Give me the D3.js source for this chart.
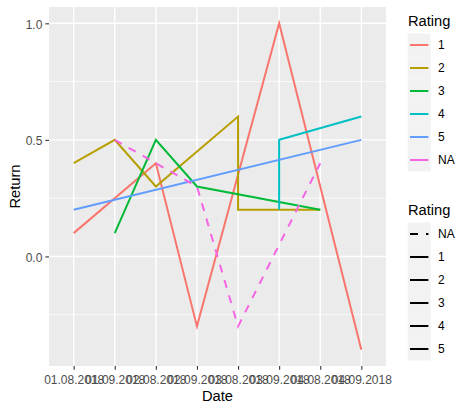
<!DOCTYPE html>
<html><head><meta charset="utf-8">
<script src="https://cdn.jsdelivr.net/npm/d3@7"></script>
<style>
body{margin:0;background:#fff;}
svg{display:block;font-family:"Liberation Sans",Arial,sans-serif;}
</style></head><body>
<svg id="c" width="469" height="411"></svg>
<script>
const dates = ["01.08.2018","01.09.2018","02.08.2018","02.09.2018","03.08.2018","03.09.2018","04.08.2018","04.09.2018"];
const ratingLevels = ["1","2","3","4","5","NA"];
const ratingColors = ["#F8766D","#B79F00","#00BA38","#00BFC4","#619CFF","#F564E3"];
const linetypeLevels = ["NA","1","2","3","4","5"];

const rating1Dates = ["01.08.2018","02.08.2018","02.09.2018","03.09.2018","04.09.2018"];
const rating1Return = [0.1, 0.4, -0.3, 1.0, -0.4];
const rating2Dates = ["01.08.2018","01.09.2018","02.08.2018","03.08.2018","03.08.2018","04.08.2018"];
const rating2Return = [0.4, 0.5, 0.3, 0.6, 0.2, 0.2];
const rating3Dates = ["01.09.2018","02.08.2018","02.09.2018","04.08.2018"];
const rating3Return = [0.1, 0.5, 0.3, 0.2];
const rating4Dates = ["03.09.2018","03.09.2018","04.09.2018"];
const rating4Return = [0.2, 0.5, 0.6];
const rating5Dates = ["01.08.2018","04.09.2018"];
const rating5Return = [0.2, 0.5];
const ratingNADates = ["01.09.2018","02.08.2018","02.09.2018","03.08.2018","04.08.2018"];
const ratingNAReturn = [0.5, 0.4, 0.3, -0.3, 0.4];

const yTicks = [0.0, 0.5, 1.0];
const yMinor = [-0.25, 0.25, 0.75];

const seriesDates = [rating1Dates, rating2Dates, rating3Dates, rating4Dates, rating5Dates, ratingNADates];
const seriesReturn = [rating1Return, rating2Return, rating3Return, rating4Return, rating5Return, ratingNAReturn];

const svg = d3.select("#c");
const P = {l:49, r:386, t:7, b:366};
const x = d3.scalePoint().domain(dates).range([P.l, P.r]).padding(0.6);
const y = d3.scaleLinear().domain([-0.47, 1.07]).range([P.b, P.t]);

svg.append("rect").attr("x",P.l).attr("y",P.t).attr("width",P.r-P.l).attr("height",P.b-P.t).attr("fill","#EBEBEB");
const g = svg.append("g");
yMinor.forEach(v=>g.append("line").attr("x1",P.l).attr("x2",P.r).attr("y1",y(v)).attr("y2",y(v)).attr("stroke","#fff").attr("stroke-width",0.7));
yTicks.forEach(v=>g.append("line").attr("x1",P.l).attr("x2",P.r).attr("y1",y(v)).attr("y2",y(v)).attr("stroke","#fff").attr("stroke-width",1.4));
dates.forEach(d=>g.append("line").attr("y1",P.t).attr("y2",P.b).attr("x1",x(d)).attr("x2",x(d)).attr("stroke","#fff").attr("stroke-width",1.4));

const line = d3.line().x(d=>x(d[0])).y(d=>y(d[1]));
ratingLevels.forEach((lv,i)=>{
  const pts = seriesDates[i].map((d,j)=>[d, seriesReturn[i][j]]);
  pts.sort((a,b)=>dates.indexOf(a[0])-dates.indexOf(b[0]));
  svg.append("path").attr("d",line(pts)).attr("fill","none")
    .attr("stroke",ratingColors[i]).attr("stroke-width",2)
    .attr("stroke-dasharray", lv==="NA" ? "8,8" : null);
});

// axes
const ya = svg.append("g").attr("transform",`translate(${P.l},0)`)
  .call(d3.axisLeft(y).tickValues(yTicks).tickFormat(d3.format(".1f")).tickSize(3.7).tickPadding(3));
const xa = svg.append("g").attr("transform",`translate(0,${P.b})`)
  .call(d3.axisBottom(x).tickSize(3.7).tickPadding(5.5));
[ya,xa].forEach(a=>{
  a.select(".domain").remove();
  a.selectAll(".tick line").attr("stroke","#333333").attr("stroke-width",1.1);
  a.selectAll(".tick text").attr("fill","#4D4D4D").style("font-size","12px").style("font-family","Liberation Sans, Arial, sans-serif");
});
ya.selectAll(".tick text").attr("dy","0.42em");

svg.append("text").attr("x",(P.l+P.r)/2).attr("y",401).attr("text-anchor","middle")
  .style("font-size","14.7px").attr("fill","#000").text("Date");
svg.append("text").attr("transform",`translate(20,${(P.t+P.b)/2}) rotate(-90)`).attr("text-anchor","middle")
  .style("font-size","14.7px").attr("fill","#000").text("Return");

// legends
function legend(top, labels, draw){
  svg.append("text").attr("x",408).attr("y",top).style("font-size","14.7px").text("Rating");
  const k0 = top + 7.5;
  labels.forEach((lab,i)=>{
    const ky = k0 + i*23;
    svg.append("rect").attr("x",407.7).attr("y",ky).attr("width",23).attr("height",23).attr("fill","#F2F2F2");
    draw(i, ky+11.5);
    svg.append("text").attr("x",438).attr("y",ky+11.5).attr("dy","0.35em").style("font-size","12px").text(lab);
  });
}
legend(26, ratingLevels, (i,cy)=>{
  svg.append("line").attr("x1",410).attr("x2",428.4).attr("y1",cy).attr("y2",cy)
    .attr("stroke",ratingColors[i]).attr("stroke-width",2);
});
legend(215, linetypeLevels, (i,cy)=>{
  svg.append("line").attr("x1",410).attr("x2",428.4).attr("y1",cy).attr("y2",cy)
    .attr("stroke","#000").attr("stroke-width",2)
    .attr("stroke-dasharray", linetypeLevels[i]==="NA" ? "8,8" : null);
});
</script></body></html>
